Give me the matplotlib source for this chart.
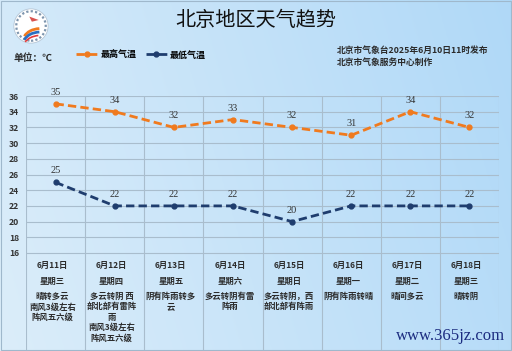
import numpy as np
import matplotlib
matplotlib.use('Agg')
import matplotlib.pyplot as plt
from matplotlib.patches import Circle, Rectangle, Arc, Polygon

plt.rcParams['font.family'] = ['Noto Sans CJK SC', 'DejaVu Sans']

dates = ['6月11日', '6月12日', '6月13日', '6月14日', '6月15日', '6月16日', '6月17日', '6月18日']
weekdays = ['星期三', '星期四', '星期五', '星期六', '星期日', '星期一', '星期二', '星期三']
weather = ['晴转多云\n南风3级左右\n阵风五六级',
           '多云转阴 西\n部北部有雷阵\n雨\n南风3级左右\n阵风五六级',
           '阴有阵雨转多\n云',
           '多云转阴有雷\n阵雨',
           '多云转阴，西\n部北部有阵雨',
           '阴有阵雨转晴',
           '晴间多云',
           '晴转阴']
high = [35, 34, 32, 33, 32, 31, 34, 32]
low = [25, 22, 22, 22, 20, 22, 22, 22]
yticks = [16, 18, 20, 22, 24, 26, 28, 30, 32, 34, 36]

orange = '#F07A1E'
navy = '#1F3D6E'
gridc = '#A9BDCD'
textc = '#2B2B2B'

W, H = 512, 351
fig = plt.figure(figsize=(W / 100, H / 100), dpi=100)

# sky background
bg = fig.add_axes([0, 0, 1, 1])
gx = np.linspace(0, 1, 256)
gy = np.linspace(0, 1, 176)
X, Y = np.meshgrid(gx, gy)
c0 = np.array([0.86, 0.93, 0.98])
c1 = np.array([0.67, 0.84, 0.97])
t = np.clip(0.75 * X + 0.15 * (1 - Y), 0, 1)[..., None]
img = c0 * (1 - t) + c1 * t
bg.imshow(img, extent=[0, 1, 0, 1], aspect='auto', origin='upper')
bg.add_patch(Rectangle((0.002, 0.003), 0.996, 0.994, fill=False, ec='#9FB8CC', lw=0.8))
bg.set_xlim(0, 1)
bg.set_ylim(0, 1)
bg.axis('off')

# logo (rough sketch of the emblem)
lg = fig.add_axes([13 / W, 1 - 44 / H, 36 / W, 36 / H])
lg.add_patch(Circle((0, 0), 1, fc='white', ec='#B5C6D6', lw=0.6))
lg.add_patch(Circle((0, 0), 0.86, fill=False, ec='#7D95AE', lw=1.6, ls=(0, (1, 1))))
lg.add_patch(Arc((0.55, -0.85), 2.0, 1.4, theta1=95, theta2=165, color=orange, lw=2))
lg.add_patch(Arc((0.55, -1.05), 2.0, 1.4, theta1=95, theta2=165, color='#2A6FC2', lw=2))
lg.add_patch(Arc((0.55, -1.25), 2.0, 1.4, theta1=100, theta2=160, color='#E23A3A', lw=1.2))
lg.add_patch(Polygon([[-0.1, 0.55], [0.45, 0.35], [0.05, 0.25]], closed=True, fc='#D9534F', ec='none'))
lg.set_xlim(-1.05, 1.05)
lg.set_ylim(-1.05, 1.05)
lg.set_aspect('equal')
lg.axis('off')

fig.text(0.5, 1 - 20 / H, '北京地区天气趋势', ha='center', va='center', fontsize=14.5, color='#111111')
fig.text(14 / W, 1 - 58 / H, '单位：℃', ha='left', va='center', fontsize=7, fontweight='bold', color=textc)
fig.text(337 / W, 1 - 50 / H, '北京市气象台2025年6月10日11时发布', ha='left', va='center', fontsize=6.3,
         fontweight='bold', color=textc)
fig.text(337 / W, 1 - 62 / H, '北京市气象服务中心制作', ha='left', va='center', fontsize=6.3,
         fontweight='bold', color=textc)

# main chart
ax = fig.add_axes([26 / W, 1 / H, 473 / W, 254 / H])
ax.patch.set_alpha(0)
ymin = 36 - 254 / 7.85
ax.set_xlim(0, 8)
ax.set_ylim(ymin, 36)
for s in ax.spines.values():
    s.set_visible(False)
ax.hlines(yticks, 0, 8, color=gridc, lw=0.8)
ax.vlines(range(9), ymin, 36, color=gridc, lw=0.8)

xs = np.arange(len(high)) + 0.5
ax.plot(xs, high, '--', color=orange, lw=2, dashes=(3, 1.5), marker='o', ms=3.5, label='最高气温')
ax.plot(xs, low, '--', color=navy, lw=2, dashes=(3, 1.5), marker='o', ms=3.5, label='最低气温')
for x, v in zip(xs, high):
    ax.annotate(str(v), (x, v), xytext=(0, 5), textcoords='offset points', ha='center', va='bottom',
                fontsize=7.5, family='Liberation Serif', color='#333333')
for x, v in zip(xs, low):
    ax.annotate(str(v), (x, v), xytext=(0, 5), textcoords='offset points', ha='center', va='bottom',
                fontsize=7.5, family='Liberation Serif', color='#333333')

ax.set_yticks(yticks)
ax.set_yticklabels([str(v) for v in yticks], fontsize=6.2, fontweight='bold', color='#333333')
ax.tick_params(axis='y', length=0, pad=5)
ax.set_xticks([])

for i in range(8):
    ax.text(xs[i] - 0.05, 36 - 169 / 7.85, dates[i], ha='center', va='center', fontsize=6,
            fontweight='bold', color=textc)
    ax.text(xs[i] - 0.05, 36 - 185 / 7.85, weekdays[i], ha='center', va='center', fontsize=6,
            fontweight='bold', color=textc)
    ax.text(xs[i] - 0.05, 36 - 196 / 7.85, weather[i], ha='center', va='top', fontsize=6,
            fontweight='bold', color=textc, linespacing=1.2, multialignment='center')

ax.legend(loc='center left', bbox_to_anchor=(68 / W, 1 - 55 / H), bbox_transform=fig.transFigure,
          ncol=2, frameon=False, handlelength=2.4, handletextpad=0.3, columnspacing=1.0,
          prop={'weight': 'bold', 'size': 6.5})

fig.text(505 / W, 1 - 336 / H, 'www.365jz.com', ha='right', va='center', fontsize=12,
         family='Liberation Serif', color='#1C2C80')

fig.savefig('out.png', dpi=100)
